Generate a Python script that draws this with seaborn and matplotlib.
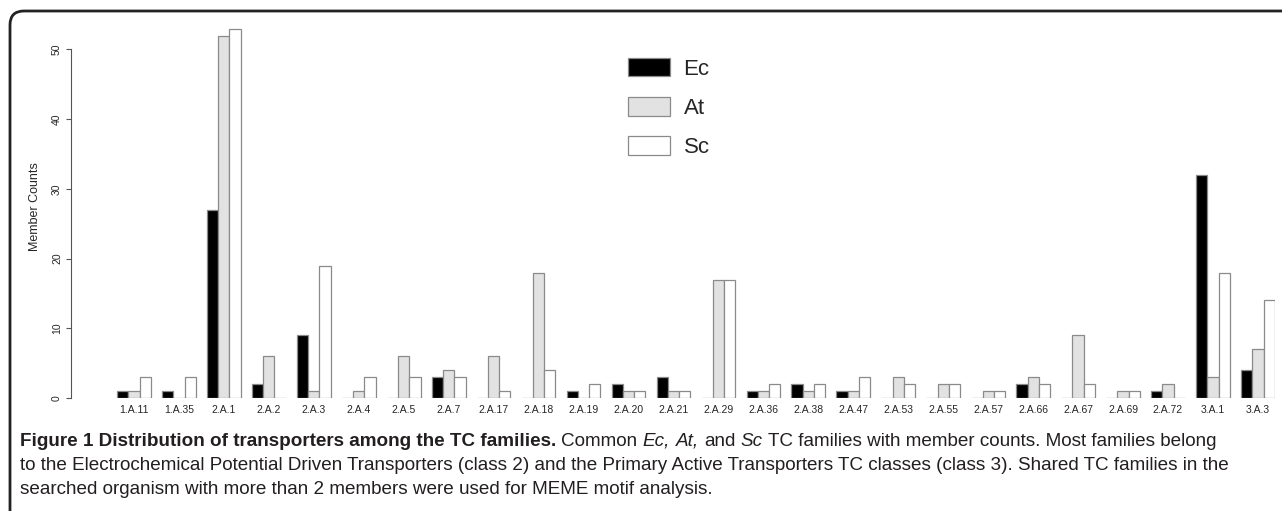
import matplotlib
matplotlib.use("Agg")
import matplotlib.pyplot as plt
import numpy as np
import pandas as pd
import seaborn as sns
from matplotlib.patches import FancyBboxPatch
from matplotlib.transforms import IdentityTransform

families = [
    "1.A.11", "1.A.35", "2.A.1", "2.A.2", "2.A.3", "2.A.4", "2.A.5", "2.A.7",
    "2.A.17", "2.A.18", "2.A.19", "2.A.20", "2.A.21", "2.A.29", "2.A.36",
    "2.A.38", "2.A.47", "2.A.53", "2.A.55", "2.A.57", "2.A.66", "2.A.67",
    "2.A.69", "2.A.72", "3.A.1", "3.A.3",
]
ec_counts = [1, 1, 27, 2, 9, 0, 0, 3, 0, 0, 1, 2, 3, 0, 1, 2, 1, 0, 0, 0, 2, 0, 0, 1, 32, 4]
at_counts = [1, 0, 52, 6, 1, 1, 6, 4, 6, 18, 0, 1, 1, 17, 1, 1, 1, 3, 2, 1, 3, 9, 1, 2, 3, 7]
sc_counts = [3, 3, 53, 0, 19, 3, 3, 3, 1, 4, 2, 1, 1, 17, 2, 2, 3, 2, 2, 1, 2, 2, 1, 0, 18, 14]
species = ["Ec", "At", "Sc"]
y_ticks = [0, 10, 20, 30, 40, 50]

df = pd.DataFrame({
    "family": families * 3,
    "species": np.repeat(species, len(families)),
    "count": ec_counts + at_counts + sc_counts,
})

sns.set_style("white")
plt.rcParams["font.family"] = ["Liberation Sans", "DejaVu Sans"]

W, H = 1282, 511
fig = plt.figure(figsize=(W / 100, H / 100), dpi=100)
ax = fig.add_axes([71 / W, 0.2211, 1204 / W, 0.7503])

palette = {"Ec": "black", "At": "#e2e2e2", "Sc": "white"}
sns.barplot(
    data=df, x="family", y="count", hue="species", hue_order=species,
    palette=palette, width=0.75, gap=0, edgecolor="#8a8a8a", linewidth=0.9,
    saturation=1, ax=ax,
)

ax.set_xlim(-1.4, 25.38)
ax.set_ylim(0, 55)
for s in ["top", "right", "bottom"]:
    ax.spines[s].set_visible(False)
ax.spines["left"].set_bounds(0, 50)
ax.spines["left"].set_color("#555555")
ax.spines["left"].set_linewidth(0.8)
ax.set_yticks(y_ticks)
ax.set_yticklabels([str(t) for t in y_ticks], rotation=90, va="center", fontsize=7.5)
ax.tick_params(axis="y", length=3.5, width=0.8, color="#555555", pad=3, left=True)
ax.tick_params(axis="x", length=0, pad=5, labelsize=7.5)
ax.set_xlabel("")
ax.set_ylabel("Member Counts", fontsize=9, labelpad=8)

handles, labels = ax.get_legend_handles_labels()
ax.legend(
    handles, labels, loc="upper left", bbox_to_anchor=(628 / W, 1 - 58 / H),
    bbox_transform=fig.transFigure, frameon=False, fontsize=16,
    handlelength=1.9, handleheight=0.9, handletextpad=0.6, labelspacing=0.78,
    borderpad=0, borderaxespad=0,
)

# rounded frame around the figure panel
frame = FancyBboxPatch(
    (10, -40), 1400, H - 11 + 40, boxstyle="round,pad=0,rounding_size=14",
    transform=IdentityTransform(), fill=False, edgecolor="#222222",
    linewidth=2, figure=fig,
)
fig.patches.append(frame)

# caption with mixed styles
cap_family = ["Liberation Sans", "DejaVu Sans"]
cap_size = 13.6
caption_lines = [
    [("Figure 1 Distribution of transporters among the TC families.", "bold", "normal"),
     ("Common", "normal", "normal"), ("Ec,", "normal", "italic"), ("At,", "normal", "italic"),
     ("and", "normal", "normal"), ("Sc", "normal", "italic"),
     ("TC families with member counts. Most families belong", "normal", "normal")],
    [("to the Electrochemical Potential Driven Transporters (class 2) and the Primary Active "
      "Transporters TC classes (class 3). Shared TC families in the", "normal", "normal")],
    [("searched organism with more than 2 members were used for MEME motif analysis.",
      "normal", "normal")],
]
renderer = fig.canvas.get_renderer()


def text_width(s, weight, style):
    t = fig.text(0, 0, s, fontsize=cap_size, family=cap_family, weight=weight, style=style)
    w = t.get_window_extent(renderer).width
    t.remove()
    return w


space_w = text_width("a a", "normal", "normal") - text_width("aa", "normal", "normal")
line_y = [441, 465, 489]
for chunks, yy in zip(caption_lines, line_y):
    x = 20
    for s, weight, style in chunks:
        fig.text(x / W, 1 - yy / H, s, fontsize=cap_size, family=cap_family,
                 weight=weight, style=style, va="center", ha="left", color="#231f20")
        x += text_width(s, weight, style) + space_w

fig.savefig("out.png", dpi=100)
